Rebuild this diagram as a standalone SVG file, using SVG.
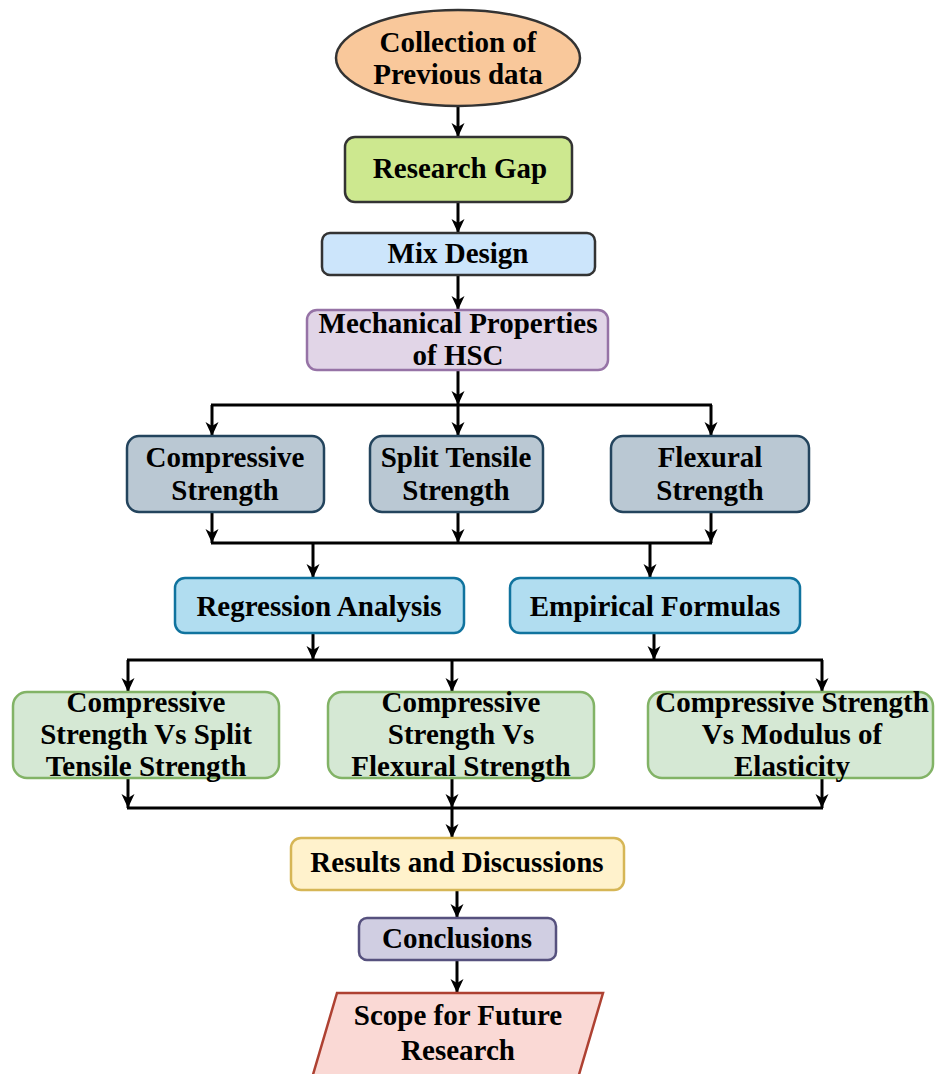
<svg xmlns="http://www.w3.org/2000/svg" width="936" height="1074" viewBox="0 0 936 1074">
<defs>
<marker id="ah" markerUnits="userSpaceOnUse" markerWidth="16" markerHeight="16" viewBox="0 0 16 16" refX="15" refY="8" orient="auto">
<path d="M1,1.5 L15,8 L1,14.5 L5,8 Z" fill="#000"/>
</marker>
<style>
text{font-family:"Liberation Serif","Times New Roman",serif;font-weight:bold;font-size:29px;fill:#000;text-anchor:middle}
.c line,.c path{stroke:#000;stroke-width:3;fill:none}
.c .a{marker-end:url(#ah)}
.n{stroke-width:2.5}
</style>
</defs>
<rect width="936" height="1074" fill="#fff"/>
<g class="c" id="connectors">
<line class="a" x1="458" y1="106" x2="458" y2="137"/>
<line class="a" x1="458" y1="202" x2="458" y2="233"/>
<line class="a" x1="458" y1="275" x2="458" y2="310"/>
<line class="a" x1="458" y1="370" x2="458" y2="405"/>
<line x1="211" y1="405" x2="712" y2="405"/>
<line class="a" x1="212" y1="405" x2="212" y2="436"/>
<line class="a" x1="458" y1="405" x2="458" y2="436"/>
<line class="a" x1="711" y1="405" x2="711" y2="436"/>
<line class="a" x1="212" y1="512" x2="212" y2="543"/>
<line class="a" x1="458" y1="512" x2="458" y2="543"/>
<line class="a" x1="711" y1="512" x2="711" y2="543"/>
<line x1="211" y1="543" x2="712" y2="543"/>
<line class="a" x1="313" y1="543" x2="313" y2="578"/>
<line class="a" x1="650" y1="543" x2="650" y2="578"/>
<line class="a" x1="313" y1="633" x2="313" y2="660"/>
<line class="a" x1="654" y1="633" x2="654" y2="660"/>
<line x1="127" y1="660" x2="823" y2="660"/>
<line class="a" x1="128" y1="660" x2="128" y2="692"/>
<line class="a" x1="452" y1="660" x2="452" y2="692"/>
<line class="a" x1="822" y1="660" x2="822" y2="692"/>
<line class="a" x1="128" y1="778" x2="128" y2="808"/>
<line class="a" x1="452" y1="778" x2="452" y2="808"/>
<line class="a" x1="822" y1="778" x2="822" y2="808"/>
<line x1="127" y1="808" x2="823" y2="808"/>
<line class="a" x1="452" y1="808" x2="452" y2="838"/>
<line class="a" x1="457" y1="890" x2="457" y2="918"/>
<line class="a" x1="457" y1="960" x2="457" y2="993"/>
</g>
<g id="n1"><ellipse class="n" cx="458" cy="58" rx="122" ry="48" fill="#f9c89b" stroke="#333"/><text x="458" y="52">Collection of</text><text x="458" y="84">Previous data</text></g>
<g id="n2"><rect class="n" x="345" y="137" width="227" height="65" rx="10" fill="#cde88f" stroke="#333"/><text x="460" y="178">Research Gap</text></g>
<g id="n3"><rect class="n" x="322" y="233" width="273" height="42" rx="8" fill="#cce5fb" stroke="#333"/><text x="458" y="263">Mix Design</text></g>
<g id="n4"><rect class="n" x="307" y="310" width="301" height="60" rx="10" fill="#e1d5e7" stroke="#9673a6"/><text x="458" y="333">Mechanical Properties</text><text x="458" y="365">of HSC</text></g>
<g id="n5"><rect class="n" x="127" y="436" width="197" height="76" rx="12" fill="#bac8d3" stroke="#23445d"/><text x="225" y="467">Compressive</text><text x="225" y="500">Strength</text></g>
<g id="n6"><rect class="n" x="370" y="436" width="173" height="76" rx="12" fill="#bac8d3" stroke="#23445d"/><text x="456" y="467">Split Tensile</text><text x="456" y="500">Strength</text></g>
<g id="n7"><rect class="n" x="611" y="436" width="198" height="76" rx="12" fill="#bac8d3" stroke="#23445d"/><text x="710" y="467">Flexural</text><text x="710" y="500">Strength</text></g>
<g id="n8"><rect class="n" x="175" y="578" width="289" height="55" rx="10" fill="#b1ddf0" stroke="#10739e"/><text x="319" y="616">Regression Analysis</text></g>
<g id="n9"><rect class="n" x="510" y="578" width="290" height="55" rx="10" fill="#b1ddf0" stroke="#10739e"/><text x="655" y="616">Empirical Formulas</text></g>
<g id="n10"><rect class="n" x="13" y="692" width="266" height="86" rx="14" fill="#d5e8d4" stroke="#82b366"/><text x="146" y="712">Compressive</text><text x="146" y="744">Strength Vs Split</text><text x="146" y="776">Tensile Strength</text></g>
<g id="n11"><rect class="n" x="328" y="692" width="266" height="86" rx="14" fill="#d5e8d4" stroke="#82b366"/><text x="461" y="712">Compressive</text><text x="461" y="744">Strength Vs</text><text x="461" y="776">Flexural Strength</text></g>
<g id="n12"><rect class="n" x="648" y="692" width="285" height="86" rx="14" fill="#d5e8d4" stroke="#82b366"/><text x="792" y="712">Compressive Strength</text><text x="792" y="744">Vs Modulus of</text><text x="792" y="776">Elasticity</text></g>
<g id="n13"><rect class="n" x="291" y="838" width="333" height="52" rx="10" fill="#fff2cc" stroke="#d6b656"/><text x="457" y="872">Results and Discussions</text></g>
<g id="n14"><rect class="n" x="359" y="918" width="197" height="42" rx="8" fill="#d0cee2" stroke="#56517e"/><text x="457" y="948">Conclusions</text></g>
<g id="n15"><polygon class="n" points="337,993 603,993 578,1078 312,1078" fill="#fad9d5" stroke="#ae4132"/><text x="458" y="1025">Scope for Future</text><text x="458" y="1060">Research</text></g>
</svg>
